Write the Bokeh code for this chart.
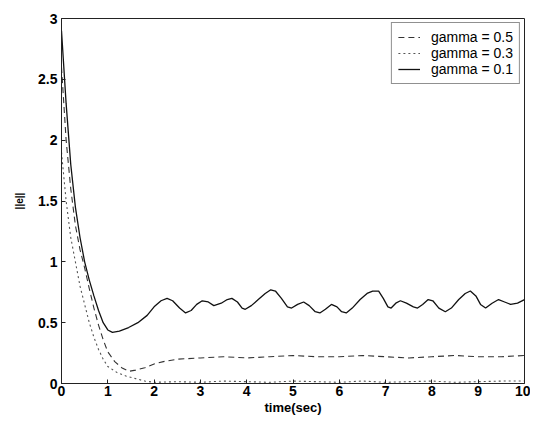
from bokeh.plotting import figure
from bokeh.models import Range1d, FixedTicker, Legend, LegendItem
from bokeh.embed import file_html
from bokeh.resources import INLINE

# gamma = 0.1 (upper wavy curve)
t_g01 = [0, 0.1, 0.2, 0.3, 0.4, 0.5, 0.6, 0.7, 0.8, 0.9, 1.0, 1.1, 1.25, 1.45, 1.65, 1.85,
         2.0, 2.15, 2.28, 2.4, 2.55, 2.68, 2.8, 2.92, 3.04, 3.17, 3.29, 3.45, 3.58, 3.68,
         3.8, 3.9, 3.97, 4.1, 4.25, 4.4, 4.52, 4.62, 4.75, 4.88, 4.97, 5.1, 5.23, 5.35,
         5.48, 5.58, 5.7, 5.83, 5.95, 6.05, 6.15, 6.28, 6.45, 6.6, 6.72, 6.85, 6.95, 7.05,
         7.12, 7.22, 7.32, 7.45, 7.6, 7.69, 7.8, 7.92, 8.02, 8.15, 8.29, 8.42, 8.58, 8.72,
         8.83, 8.95, 9.05, 9.16, 9.3, 9.44, 9.57, 9.7, 9.85, 10]
e_g01 = [2.9, 2.3, 1.8, 1.45, 1.2, 1.0, 0.85, 0.72, 0.6, 0.5, 0.44, 0.42, 0.43, 0.46, 0.50, 0.56,
         0.63, 0.68, 0.70, 0.68, 0.62, 0.58, 0.60, 0.65, 0.68, 0.67, 0.64, 0.66, 0.69, 0.70,
         0.67, 0.62, 0.61, 0.64, 0.69, 0.74, 0.77, 0.76, 0.70, 0.63, 0.62, 0.65, 0.67, 0.64,
         0.59, 0.58, 0.61, 0.65, 0.63, 0.59, 0.58, 0.62, 0.69, 0.74, 0.76, 0.76, 0.70, 0.63,
         0.62, 0.66, 0.68, 0.66, 0.63, 0.62, 0.65, 0.69, 0.68, 0.62, 0.59, 0.62, 0.69, 0.74,
         0.76, 0.72, 0.65, 0.62, 0.66, 0.69, 0.67, 0.65, 0.66, 0.69]

# gamma = 0.5 (middle dashed curve)
t_g05 = [0, 0.1, 0.2, 0.3, 0.4, 0.5, 0.6, 0.7, 0.8, 0.9, 1.0, 1.15, 1.3, 1.45, 1.6, 1.8, 2.0,
         2.2, 2.5, 3.0, 3.5, 4.0, 4.5, 5.0, 5.5, 6.0, 6.5, 7.0, 7.5, 8.0, 8.5, 9.0, 9.5, 10]
e_g05 = [2.6, 2.0, 1.6, 1.3, 1.1, 0.95, 0.78, 0.62, 0.48, 0.36, 0.26, 0.18, 0.13, 0.10, 0.11,
         0.13, 0.16, 0.18, 0.20, 0.21, 0.22, 0.21, 0.22, 0.23, 0.22, 0.22, 0.23, 0.22, 0.21,
         0.22, 0.23, 0.22, 0.22, 0.23]

# gamma = 0.3 (lower curve going to zero)
t_g03 = [0, 0.1, 0.2, 0.3, 0.4, 0.5, 0.6, 0.7, 0.8, 0.9, 1.0, 1.2, 1.4, 1.6, 1.8, 2.0, 2.5,
         3.0, 3.5, 4.0, 4.5, 5.0, 5.5, 6.0, 6.5, 7.0, 7.5, 8.0, 8.5, 9.0, 9.5, 10]
e_g03 = [1.9, 1.5, 1.2, 1.0, 0.8, 0.65, 0.5, 0.38, 0.28, 0.2, 0.14, 0.09, 0.06, 0.04, 0.02,
         0.01, 0.015, 0.01, 0.02, 0.015, 0.01, 0.02, 0.015, 0.01, 0.02, 0.01, 0.015, 0.02,
         0.01, 0.015, 0.02, 0.02]

x_ticks = [0, 1, 2, 3, 4, 5, 6, 7, 8, 9, 10]
y_ticks = [0, 0.5, 1, 1.5, 2, 2.5, 3]

FONT = "Liberation Sans"

p = figure(width=530, height=417, output_backend="svg", toolbar_location=None,
           x_range=Range1d(0, 10), y_range=Range1d(0, 3),
           min_border_left=61, min_border_right=6, min_border_top=18, min_border_bottom=34)
p.background_fill_color = "white"
p.border_fill_color = "white"
p.outline_line_color = "#222222"
p.xgrid.visible = False
p.ygrid.visible = False

for ax, ticks in ((p.xaxis, x_ticks), (p.yaxis, y_ticks)):
    ax.ticker = FixedTicker(ticks=ticks)
    ax.minor_tick_line_color = None
    ax.major_tick_in = 4
    ax.major_tick_out = 0
    ax.axis_line_color = "#222222"
    ax.major_tick_line_color = "#222222"
    ax.major_label_text_font = FONT
    ax.major_label_text_font_style = "bold"
    ax.major_label_text_font_size = "14px"
    ax.major_label_text_color = "black"
    ax.axis_label_text_font = FONT
    ax.axis_label_text_font_style = "bold"
    ax.axis_label_text_color = "black"

p.xaxis.major_label_standoff = 2
p.yaxis.major_label_standoff = 4
p.xaxis.axis_label = "time(sec)"
p.xaxis.axis_label_text_font_size = "13px"
p.xaxis.axis_label_standoff = 1
p.yaxis.axis_label = "||e||"
p.yaxis.axis_label_text_font_size = "10px"
p.yaxis.axis_label_standoff = 10

r1 = p.line(t_g05, e_g05, line_color="#333333", line_width=1.1, line_dash="6 4")
r2 = p.line(t_g03, e_g03, line_color="#555555", line_width=1.1, line_dash="2 3")
r3 = p.line(t_g01, e_g01, line_color="#111111", line_width=1.3)

legend = Legend(items=[LegendItem(label="gamma = 0.5", renderers=[r1]),
                       LegendItem(label="gamma = 0.3", renderers=[r2]),
                       LegendItem(label="gamma = 0.1", renderers=[r3])],
                location="top_right")
legend.label_text_font = FONT
legend.label_text_font_size = "14px"
legend.label_text_color = "black"
legend.glyph_width = 22
legend.glyph_height = 16
legend.label_height = 16
legend.label_standoff = 11
legend.spacing = 0
legend.padding = 6
legend.margin = 4
legend.border_line_color = "#222222"
legend.border_line_width = 1
legend.background_fill_alpha = 1
p.add_layout(legend)

open("out.html", "w").write(file_html(p, INLINE))
